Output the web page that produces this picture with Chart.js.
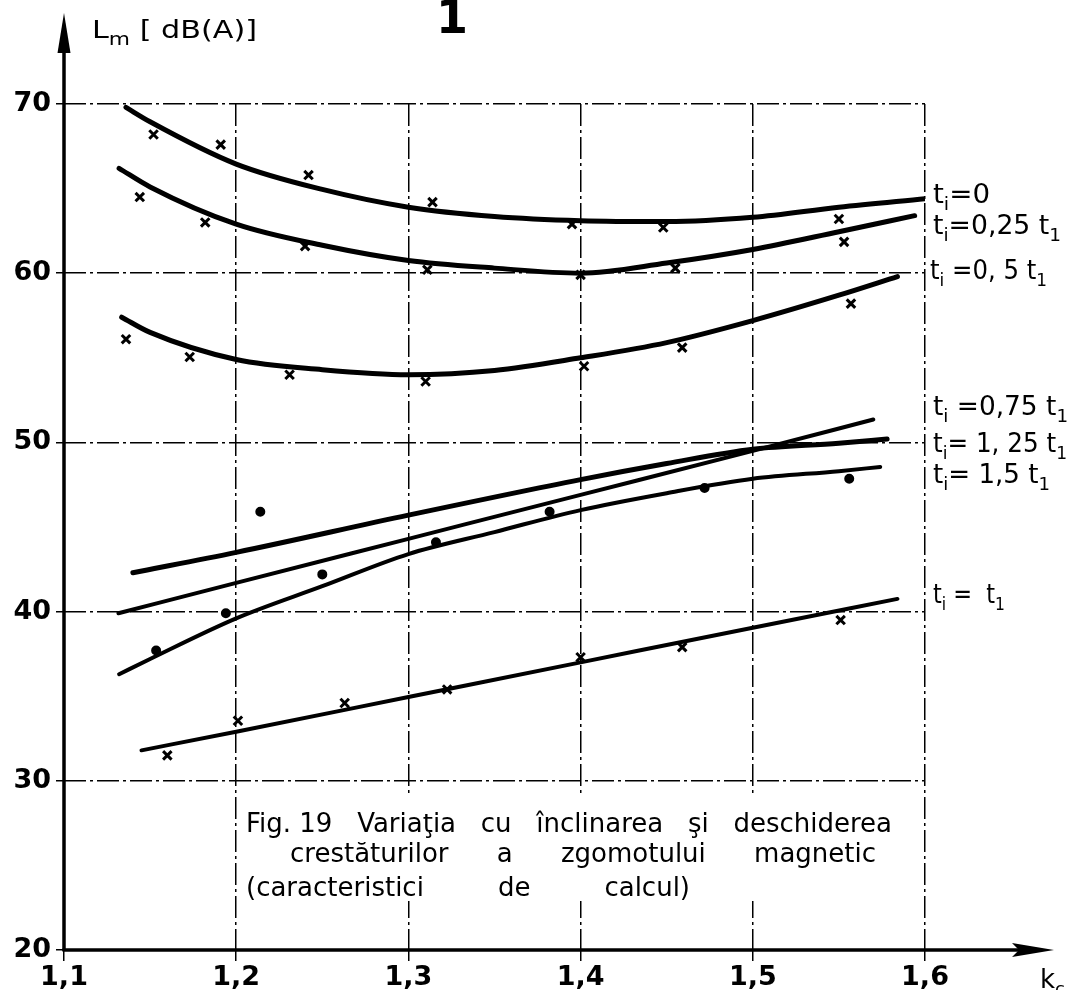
<!DOCTYPE html>
<html>
<head>
<meta charset="utf-8">
<title>Fig. 19 - Lm vs kc</title>
<script src="https://cdn.jsdelivr.net/npm/chart.js@4.4.0/dist/chart.umd.min.js"></script>
<style>
    html, body { margin: 0; padding: 0; background: #fff; }
    #wrap { width: 1071px; height: 990px; }
</style>
</head>
<body>
<div id="wrap"><canvas id="lmChart" width="1071" height="990"></canvas></div>
<script>
/* ==========================
   DATA
========================== */
const kTicks = [1.1, 1.2, 1.3, 1.4, 1.5, 1.6];
const lTicks = [20, 30, 40, 50, 60, 70];

// fitted curves
const ti0K   = [1.136, 1.15, 1.2, 1.25, 1.3, 1.35, 1.4, 1.45, 1.5, 1.55, 1.6];
const ti0L   = [69.8, 68.95, 66.45, 64.95, 63.9, 63.35, 63.1, 63.05, 63.3, 63.9, 64.4];
const ti025K = [1.132, 1.15, 1.2, 1.25, 1.3, 1.35, 1.4, 1.45, 1.5, 1.55, 1.594];
const ti025L = [66.2, 65.1, 62.9, 61.65, 60.75, 60.3, 60.0, 60.6, 61.4, 62.45, 63.4];
const ti05K  = [1.1335, 1.15, 1.2, 1.25, 1.3, 1.35, 1.4, 1.45, 1.5, 1.55, 1.584];
const ti05L  = [57.4, 56.5, 54.9, 54.3, 54.0, 54.25, 55.0, 55.9, 57.2, 58.7, 59.8];
const ti075K = [1.1316, 1.2, 1.3, 1.4, 1.5, 1.57];
const ti075L = [39.9, 41.7, 44.3, 46.9, 49.5, 51.35];
const ti125K = [1.14, 1.2, 1.3, 1.4, 1.45, 1.5, 1.55, 1.578];
const ti125L = [42.3, 43.5, 45.7, 47.8, 48.75, 49.6, 49.95, 50.2];
const ti15K  = [1.132, 1.15, 1.2, 1.25, 1.3, 1.35, 1.4, 1.45, 1.5, 1.55, 1.574];
const ti15L  = [36.3, 37.2, 39.6, 41.5, 43.4, 44.7, 46.0, 47.0, 47.85, 48.3, 48.55];
const ti1K   = [1.145, 1.2, 1.3, 1.4, 1.5, 1.584];
const ti1L   = [31.8, 32.9, 34.95, 37.0, 39.05, 40.75];

// measured points (x marks / dots)
const mk0K   = [1.152, 1.191, 1.242, 1.314, 1.395, 1.448, 1.55];
const mk0L   = [68.2, 67.6, 65.8, 64.2, 62.9, 62.7, 63.2];
const mk025K = [1.144, 1.182, 1.24, 1.311, 1.4, 1.455, 1.553];
const mk025L = [64.5, 63.0, 61.6, 60.2, 59.9, 60.3, 61.85];
const mk05K  = [1.136, 1.173, 1.231, 1.31, 1.402, 1.459, 1.557];
const mk05L  = [56.1, 55.05, 54.0, 53.6, 54.5, 55.6, 58.2];
const mk15K  = [1.1535, 1.194, 1.214, 1.25, 1.316, 1.382, 1.472, 1.556];
const mk15L  = [37.7, 39.9, 45.9, 42.2, 44.1, 45.9, 47.3, 47.85];
const mk1K   = [1.16, 1.201, 1.263, 1.3225, 1.4, 1.459, 1.551];
const mk1L   = [31.5, 33.55, 34.6, 35.4, 37.3, 37.9, 39.5];

// right-hand curve labels: [text, subscript?] pieces
const curveLabels = [
    [['t', 0], ['i', 1], ['=0', 0]],
    [['t', 0], ['i', 1], ['=0,25 t', 0], ['1', 1]],
    [['t', 0], ['i', 1], [' =0, 5 t', 0], ['1', 1]],
    [['t', 0], ['i', 1], [' =0,75 t', 0], ['1', 1]],
    [['t', 0], ['i', 1], ['= 1, 25 t', 0], ['1', 1]],
    [['t', 0], ['i', 1], ['= 1,5 t', 0], ['1', 1]],
    [['t', 0], ['i', 1], [' =  t', 0], ['1', 1]]
];
const captionLines = [
    ['Fig. 19', 'Variaţia', 'cu', 'înclinarea', 'şi', 'deschiderea'],
    ['crestăturilor', 'a', 'zgomotului', 'magnetic'],
    ['(caracteristici', 'de', 'calcul)']
];

/* ==========================
   LAYOUT (pixels)
========================== */
// [left x, baseline y, width]
const labelBoxes = [
    [933, 203, 57], [933, 234, 128], [930, 279, 117],
    [933, 415, 135], [933, 452, 134], [933, 483, 117], [933, 603, 72]
];
// [left x, right x, baseline y]
const captionBoxes = [[246, 892, 832], [290, 876, 862], [246, 690, 896]];

function toPoints(ks, ls) {
    return ks.map((k, i) => ({ x: k, y: ls[i] }));
}

function curve(ks, ls, width) {
    return {
        data: toPoints(ks, ls),
        showLine: true,
        borderColor: '#000',
        borderWidth: width,
        borderCapStyle: 'round',
        pointRadius: 0,
        tension: 0.4,
        cubicInterpolationMode: 'monotone',
        fill: false
    };
}

function marks(ks, ls, style) {
    return {
        data: toPoints(ks, ls),
        showLine: false,
        pointStyle: style,
        pointRadius: style === 'circle' ? 3.5 : 6,
        borderWidth: 3,
        borderColor: '#000',
        backgroundColor: '#000'
    };
}

/* ==========================
   TEXT HELPERS
========================== */
const FONT = 'DejaVu Sans';

// draws pieces with subscripts, squeezed/stretched to a given width
function drawRich(ctx, parts, x, y, width, size) {
    const subSize = Math.round(size * 0.7);
    let total = 0;
    parts.forEach(p => {
        ctx.font = (p[1] ? subSize : size) + 'px "' + FONT + '"';
        total += ctx.measureText(p[0]).width;
    });
    ctx.save();
    ctx.translate(x, y);
    if (width) ctx.scale(width / total, 1);
    let cx = 0;
    parts.forEach(p => {
        ctx.font = (p[1] ? subSize : size) + 'px "' + FONT + '"';
        ctx.fillText(p[0], cx, p[1] ? size * 0.28 : 0);
        cx += ctx.measureText(p[0]).width;
    });
    ctx.restore();
}

// spreads words between x1 and x2 (the scan has wide word gaps)
function drawSpread(ctx, words, x1, x2, y) {
    const widths = words.map(w => ctx.measureText(w).width);
    const sum = widths.reduce((a, b) => a + b, 0);
    const gap = (x2 - x1 - sum) / (words.length - 1);
    let cx = x1;
    words.forEach((w, i) => {
        ctx.fillText(w, cx, y);
        cx += widths[i] + gap;
    });
}

/* ==========================
   PLUGIN: axes, arrows, labels
========================== */
const paperPlugin = {
    id: 'paper',
    afterDraw(chart) {
        const ctx = chart.ctx;
        const xs = chart.scales.x;
        const ys = chart.scales.y;
        const x0 = xs.getPixelForValue(kTicks[0]);
        const y0 = ys.getPixelForValue(lTicks[0]);

        ctx.save();
        ctx.strokeStyle = '#000';
        ctx.fillStyle = '#000';
        ctx.textBaseline = 'alphabetic';
        ctx.textAlign = 'left';

        // vertical axis with arrow
        ctx.lineWidth = 3.5;
        ctx.beginPath();
        ctx.moveTo(x0, y0 + 1);
        ctx.lineTo(x0, 45);
        ctx.stroke();
        ctx.beginPath();
        ctx.moveTo(x0, 13);
        ctx.lineTo(x0 - 6.5, 53);
        ctx.lineTo(x0 + 6.5, 53);
        ctx.closePath();
        ctx.fill();

        // horizontal axis with arrow
        ctx.beginPath();
        ctx.moveTo(x0 - 1.5, y0);
        ctx.lineTo(1030, y0);
        ctx.stroke();
        ctx.beginPath();
        ctx.moveTo(1054, y0);
        ctx.lineTo(1012, y0 - 7);
        ctx.lineTo(1019, y0);
        ctx.lineTo(1012, y0 + 7);
        ctx.closePath();
        ctx.fill();

        // axis titles
        drawRich(ctx, [['L', 0], ['m', 1], [' [ dB(A)]', 0]], 92, 38, 165, 25);
        drawRich(ctx, [['k', 0], ['c', 1]], 1040, 988, 0, 26);

        // page number cut at the top of the scan
        ctx.font = 'bold 46px "' + FONT + '"';
        ctx.fillText('1', 436, 33);

        // curve names on the right
        curveLabels.forEach((parts, i) => {
            const b = labelBoxes[i];
            drawRich(ctx, parts, b[0], b[1], b[2], 26);
        });

        // caption inside the plot (grid is broken there)
        ctx.fillStyle = '#fff';
        ctx.fillRect(243, 797, 662, 104);
        ctx.fillStyle = '#000';
        ctx.font = '26px "' + FONT + '"';
        captionLines.forEach((words, i) => {
            const b = captionBoxes[i];
            drawSpread(ctx, words, b[0], b[1], b[2]);
        });
        ctx.restore();
    }
};

/* ==========================
   CHART
========================== */
function renderChart() {
    const ctx = document.getElementById('lmChart').getContext('2d');
    const tickFont = { family: FONT, size: 27, weight: 'bold' };
    const gridDash = [22, 4, 3, 4];

    new Chart(ctx, {
        type: 'scatter',
        data: {
            datasets: [
                curve(ti0K, ti0L, 5),
                curve(ti025K, ti025L, 5),
                curve(ti05K, ti05L, 5),
                curve(ti075K, ti075L, 4),
                curve(ti125K, ti125L, 5),
                curve(ti15K, ti15L, 4),
                curve(ti1K, ti1L, 4),
                marks(mk0K, mk0L, 'crossRot'),
                marks(mk025K, mk025L, 'crossRot'),
                marks(mk05K, mk05L, 'crossRot'),
                marks(mk15K, mk15L, 'circle'),
                marks(mk1K, mk1L, 'crossRot')
            ]
        },
        options: {
            responsive: false,
            animation: false,
            layout: { padding: { top: 104, right: 146, bottom: 0, left: 0 } },
            plugins: {
                legend: { display: false },
                tooltip: { enabled: false }
            },
            scales: {
                x: {
                    type: 'linear',
                    min: kTicks[0],
                    max: kTicks[kTicks.length - 1],
                    afterBuildTicks: s => { s.ticks = kTicks.map(v => ({ value: v })); },
                    afterFit: s => { s.height = 40; },
                    grid: { color: '#000', lineWidth: 1.5, tickLength: 11 },
                    border: { display: false, dash: gridDash },
                    ticks: {
                        color: '#000',
                        font: tickFont,
                        padding: 1,
                        maxRotation: 0,
                        callback: v => v.toFixed(1).replace('.', ',')
                    }
                },
                y: {
                    type: 'linear',
                    min: lTicks[0],
                    max: lTicks[lTicks.length - 1],
                    afterBuildTicks: s => { s.ticks = lTicks.map(v => ({ value: v })); },
                    afterFit: s => { s.width = 64; },
                    grid: { color: '#000', lineWidth: 1.5, tickLength: 8 },
                    border: { display: false, dash: gridDash },
                    ticks: {
                        color: '#000',
                        font: tickFont,
                        padding: 5
                    }
                }
            }
        },
        plugins: [paperPlugin]
    });
}

document.addEventListener('DOMContentLoaded', renderChart);
</script>
</body>
</html>
